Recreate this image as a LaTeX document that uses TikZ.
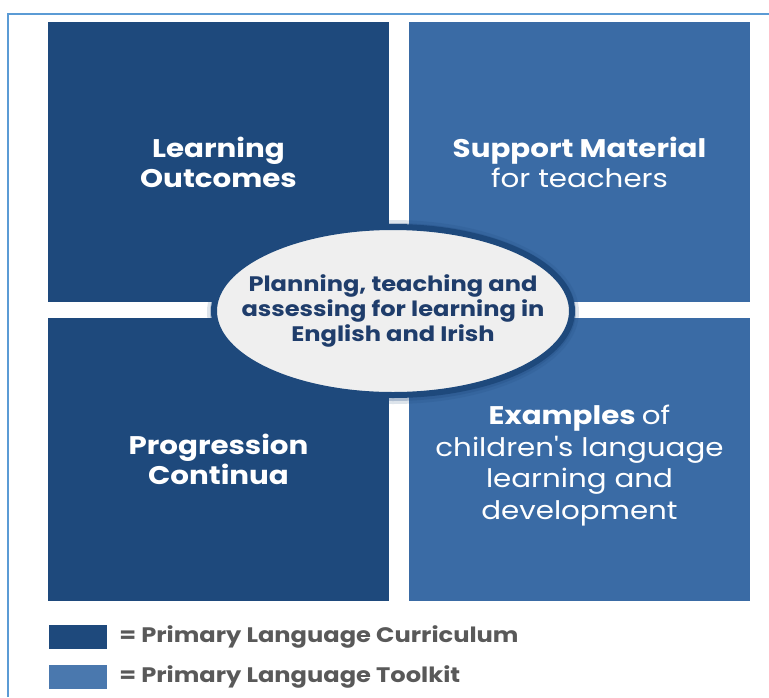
\documentclass[tikz,border=0pt]{standalone}
\usepackage{fontspec}
\setmainfont{Poppins}[FakeStretch=1.15]
\usetikzlibrary{positioning}
\usetikzlibrary{shapes.geometric}
\definecolor{curricblue}{HTML}{1E497C}
\definecolor{toolblue}{HTML}{3A6BA5}
\definecolor{keyblue}{HTML}{4A78AE}
\definecolor{frameblue}{HTML}{5B9BD5}
\definecolor{hubfill}{HTML}{EFEFEF}
\definecolor{hubtext}{HTML}{1F3D6B}
\definecolor{keytext}{HTML}{595959}
\tikzset{   quad/.style = {rectangle, inner sep=0pt, minimum width=341pt, text=white, align=center,
                           font=\fontsize{25.5}{30}\selectfont},
            curric/.style = {quad, fill=curricblue, minimum height=280pt},
            toolkit/.style = {quad, fill=toolblue, minimum height=280pt},
            hub/.style = {ellipse, fill=hubfill, draw=curricblue, line width=6pt, minimum width=358pt,
                          minimum height=168pt, inner xsep=-45pt, inner ysep=0pt, align=center, text=hubtext,
                          font=\bfseries\fontsize{21}{25}\selectfont},
            keybox/.style = {rectangle, inner sep=0pt, minimum width=58pt, minimum height=24pt},
            keylabel/.style = {right=12pt, inner sep=0pt, text=keytext, font=\bfseries\fontsize{21}{22}\selectfont}}
\begin{document}
\begin{tikzpicture}[x=1pt,y=-1pt]
  \useasboundingbox (0,0) rectangle (769,697);
  % frame
  \draw[frameblue, line width=2pt] (8,697) -- (8,14) -- (769,14);
  % four blocks
  \node[curric] (outcomes) at (218.5,162) {\bfseries Learning\\\bfseries Outcomes};
  \node[toolkit] (support) at (579.5,162) {\bfseries Support Material\\for teachers};
  \node[curric, minimum height=283pt] (continua) at (218.5,459.5) {\bfseries Progression\\\bfseries Continua};
  \node[toolkit, minimum height=283pt] (examples) at (579.5,459.5) {};
  \node[quad, minimum height=0pt, font=\fontsize{25.5}{31.5}\selectfont] (examplestext) at ([yshift=-6pt]examples.center)
       {\bfseries Examples {\mdseries of}\\children\textquotesingle s language\\learning and\\development};
  % centre
  \fill[curricblue, opacity=.15] (393,312) ellipse (186pt and 92pt);
  \fill[curricblue, opacity=.25] (393,312) ellipse (183pt and 89pt);
  \node[hub] (planning) at (393,311) {Planning, teaching and\\assessing for learning in\\English and Irish};
  % key
  \node[keybox, fill=curricblue] (keya) at (78,637) {};
  \node[keylabel] (keyatext) at (keya.east) [anchor=west] {= Primary Language Curriculum};
  \node[keybox, fill=keyblue] (keyb) at (78,677) {};
  \node[keylabel] (keybtext) at (keyb.east) [anchor=west] {= Primary Language Toolkit};
\end{tikzpicture}
\end{document}
